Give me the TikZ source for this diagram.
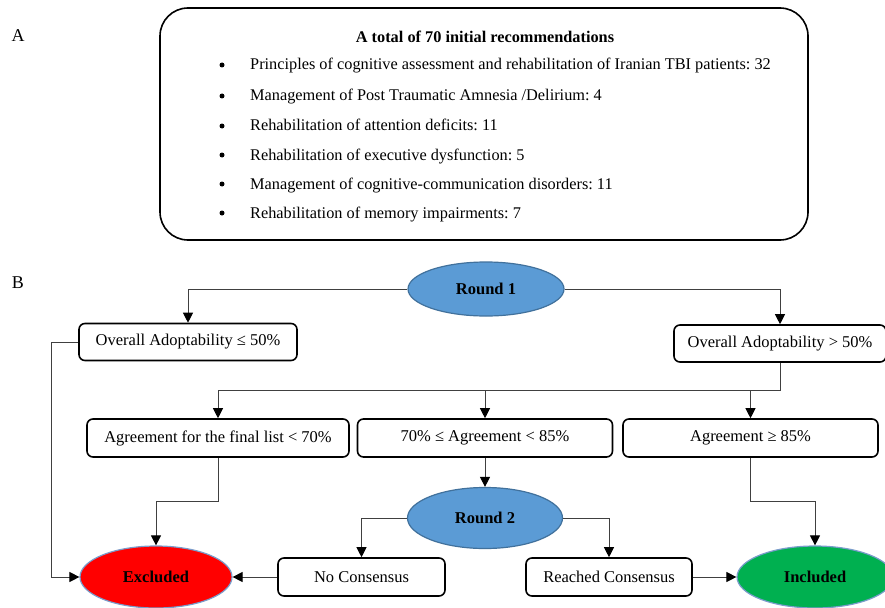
\documentclass[tikz,border=0pt]{standalone}
\usepackage{fontspec}
\setmainfont{Liberation Serif}
\usetikzlibrary{shapes.geometric,arrows.meta,calc}
\definecolor{roundblue}{HTML}{5B9BD5}
\definecolor{roundedge}{HTML}{41719C}
\definecolor{okgreen}{HTML}{00B050}
\definecolor{edgeblue}{HTML}{7A9CCB}
\definecolor{linegray}{HTML}{404040}
\frenchspacing
\tikzset{
  box/.style={draw=black, line width=1.6pt, rounded corners=6pt, inner sep=0pt, font=\fontsize{16.5}{19}\selectfont, align=center},
  oval/.style={ellipse, draw=roundedge, line width=1.2pt, inner sep=0pt, font=\fontsize{16.5}{19}\selectfont\bfseries},
  conn/.style={draw=linegray, line width=1pt, -{Triangle[length=10pt,width=10pt,black]}},
  plain/.style={draw=linegray, line width=1pt},
  item/.style={anchor=base west, inner sep=0pt, font=\fontsize{16.3}{19}\selectfont},
  bul/.style={circle, fill=black, inner sep=0pt, minimum size=5pt},
  lab/.style={inner sep=0pt, font=\fontsize{18}{21}\selectfont}
}
\begin{document}
\begin{tikzpicture}[x=1pt,y=-1pt]
\useasboundingbox (0,0) rectangle (885,607);
\fill[white] (0,0) rectangle (885,607);
% Part A
\node[lab] (labA) at (18,36) {A};
\node[draw=black, line width=1.6pt, rounded corners=28pt, minimum width=648pt, minimum height=232pt, inner sep=0pt] (topbox) at (484,124) {};
\node[inner sep=0pt, font=\fontsize{16.3}{19}\selectfont\bfseries] (title) at (485,37) {A total of 70 initial recommendations};
\foreach \y/\t [count=\i] in {65/{Principles of cognitive assessment and rehabilitation of Iranian TBI patients: 32},
  96/{Management of Post Traumatic Amnesia /Delirium: 4},
  126/{Rehabilitation of attention deficits: 11},
  155/{Rehabilitation of executive dysfunction: 5},
  184/{Management of cognitive-communication disorders: 11},
  213/{Rehabilitation of memory impairments: 7}}{
  \node[bul] (b\i) at (222,\y) {};
  \node[item] (t\i) at (250,\y+5) {\t};
}
% Part B
\node[lab] (labB) at (18,283) {B};
\node[oval, fill=roundblue, minimum width=156pt, minimum height=54pt] (r1) at (486,289) {Round 1};
\node[box, minimum width=218pt, minimum height=37pt] (ad1) at (188,342) {Overall Adoptability ≤ 50\%};
\node[box, minimum width=212pt, minimum height=37pt] (ad2) at (780,343.5) {Overall Adoptability > 50\%};
\node[box, minimum width=262pt, minimum height=38pt] (ag1) at (218,438) {Agreement for the final list < 70\%};
\node[box, minimum width=255pt, minimum height=38pt] (ag2) at (485,438) {70\% ≤ Agreement < 85\%};
\node[box, minimum width=255pt, minimum height=38pt] (ag3) at (750.5,438) {Agreement ≥ 85\%};
\node[oval, fill=roundblue, minimum width=155pt, minimum height=61pt] (r2) at (485,518) {Round 2};
\node[box, minimum width=167pt, minimum height=38pt] (nc) at (361.5,577) {No Consensus};
\node[box, minimum width=166pt, minimum height=38pt] (rc) at (609,577) {Reached Consensus};
\node[oval, draw=edgeblue, fill=red, minimum width=152pt, minimum height=62pt] (exc) at (156,577) {Excluded};
\node[oval, draw=edgeblue, fill=okgreen, minimum width=156pt, minimum height=62pt] (inc) at (815,577) {Included};
\coordinate (split) at (485,390);
% connectors
\draw[conn] (r1.west) -| (ad1.north);
\draw[conn] (r1.east) -| (ad2.north);
\draw[plain] (ad2.south) -- (ad2.south |- split) -- (ag1.north |- split);
\draw[conn] (ag1.north |- split) -- (ag1.north);
\draw[conn] (split) -- (ag2.north);
\draw[conn] (ag3.north |- split) -- (ag3.north);
\draw[conn] (ad1.west) -- ++(-27,0) |- (exc.west);
\draw[conn] (ag1.south) -- ++(0,44) -| (exc.north);
\draw[conn] (ag2.south) -- (r2.north);
\draw[conn] (r2.west) -| (nc.north);
\draw[conn] (r2.east) -| (rc.north);
\draw[conn] (nc.west) -- (exc.east);
\draw[conn] (rc.east) -- (inc.west);
\draw[conn] (ag3.south) -- ++(0,44) -| (inc.north);
\end{tikzpicture}
\end{document}
